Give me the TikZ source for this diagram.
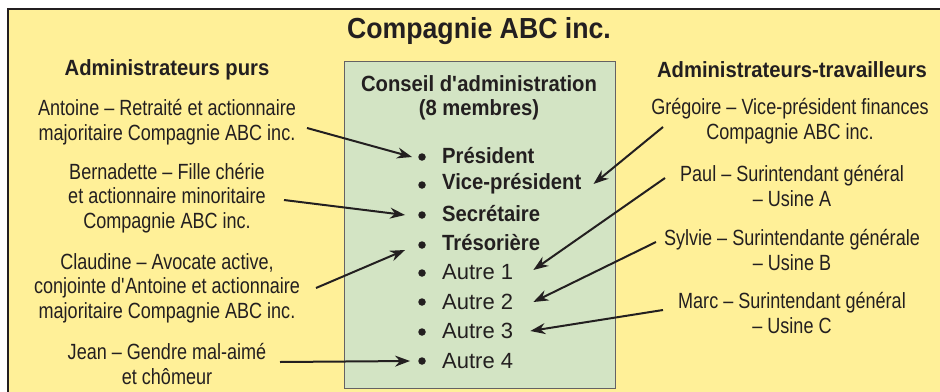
\documentclass[tikz,border=0pt]{standalone}
\usepackage{fontspec}
\setmainfont{Liberation Sans}[FakeStretch=0.82, BoldFeatures={FakeStretch=0.92}]
\newfontfamily\widefont{Liberation Sans}[FakeStretch=1.0]
\usetikzlibrary{arrows.meta}
\definecolor{bgyellow}{RGB}{255,240,152}
\definecolor{boardgreen}{RGB}{211,228,196}
\definecolor{ink}{RGB}{35,31,32}
\begin{document}
\begin{tikzpicture}[x=1pt,y=-1pt,
  txt/.style={font=\fontsize{22}{24.5}\selectfont, align=center, inner sep=0pt, text=ink},
  head/.style={font=\bfseries\fontsize{22}{24}\selectfont, inner sep=0pt, text=ink},
  titlestyle/.style={font=\bfseries\fontsize{29}{32}\selectfont, inner sep=0pt, text=ink},
  item/.style={font=\bfseries\fontsize{22}{24}\selectfont, anchor=west, inner sep=0pt, text=ink},
  itemr/.style={font=\widefont\fontsize{22}{24}\selectfont, anchor=west, inner sep=0pt, text=ink},
  bul/.style={circle, fill=ink, inner sep=0pt, minimum size=7.5pt},
  arr/.style={draw=ink, line width=2pt, -{Stealth[length=15pt,width=11pt]}}]
\useasboundingbox (0,0) rectangle (940,391);
\clip (0,0) rectangle (940,391);
\fill[white] (0,0) rectangle (940,391);
\node[draw=ink, fill=bgyellow, line width=1.5pt, minimum width=960pt, minimum height=400pt, anchor=north west, inner sep=0pt] (frame) at (7,8) {};
\node[draw=ink!70, fill=boardgreen, line width=1pt, minimum width=271pt, minimum height=327pt, anchor=north west, inner sep=0pt] (board) at (344,61) {};

\node[titlestyle] (title) at (479,31) {Compagnie ABC inc.};
\node[head] (hleft) at (167,70) {Administrateurs purs};
\node[head] (hright) at (792,70) {Administrateurs-travailleurs};
\node[head, align=center] (conseil) at (479,98) {Conseil d\textquotesingle administration\\(8 membres)};

\node[txt] (antoine) at (167,122) {Antoine – Retraité et actionnaire\\majoritaire Compagnie ABC inc.};
\node[txt] (bernadette) at (167,198) {Bernadette – Fille chérie\\et actionnaire minoritaire\\Compagnie ABC inc.};
\node[txt] (claudine) at (167,288) {Claudine – Avocate active,\\conjointe d\textquotesingle Antoine et actionnaire\\majoritaire Compagnie ABC inc.};
\node[txt] (jean) at (167,364) {Jean – Gendre mal-aimé\\et chômeur};

\node[txt] (gregoire) at (790,121) {Grégoire – Vice-président finances\\Compagnie ABC inc.};
\node[txt] (paul) at (792,186) {Paul – Surintendant général\\– Usine A};
\node[txt] (sylvie) at (792,250) {Sylvie – Surintendante générale\\– Usine B};
\node[txt] (marc) at (792,313) {Marc – Surintendant général\\– Usine C};

\node[item] (i1) at (442,156) {Président};
\node[item] (i2) at (442,184) {Vice-président};
\node[item] (i3) at (442,214) {Secrétaire};
\node[item] (i4) at (442,243) {Trésorière};
\node[itemr] (i5) at (442,272) {Autre 1};
\node[itemr] (i6) at (442,302) {Autre 2};
\node[itemr] (i7) at (442,331) {Autre 3};
\node[itemr] (i8) at (442,361) {Autre 4};

\node[bul] (b1) at (422,157) {};
\node[bul] (b2) at (422,185) {};
\node[bul] (b3) at (422,215) {};
\node[bul] (b4) at (422,245) {};
\node[bul] (b5) at (422,273) {};
\node[bul] (b6) at (422,302) {};
\node[bul] (b7) at (422,332) {};
\node[bul] (b8) at (422,361) {};

\coordinate (tA) at (307,128);
\coordinate (tB) at (284,200);
\coordinate (tC) at (316,288);
\coordinate (tJ) at (280,362);
\coordinate (tG) at (663,127);
\coordinate (tP) at (665,178);
\coordinate (tS) at (656,242);
\coordinate (tM) at (663,310);

\draw[arr] (tA) -- ([xshift=-6pt]b1.west);
\draw[arr] (tB) -- ([xshift=-13pt]b3.west);
\draw[arr] (tC) -- ([xshift=-13pt,yshift=-5pt]b4.west);
\draw[arr] (tJ) -- ([xshift=-8pt]b8.west);
\draw[arr] (tG) -- ([xshift=12pt]i2.east);
\draw[arr] (tP) -- ([xshift=20pt,yshift=2pt]i5.east);
\draw[arr] (tS) -- ([xshift=20pt]i6.east);
\draw[arr] (tM) -- ([xshift=17pt]i7.east);
\end{tikzpicture}
\end{document}
